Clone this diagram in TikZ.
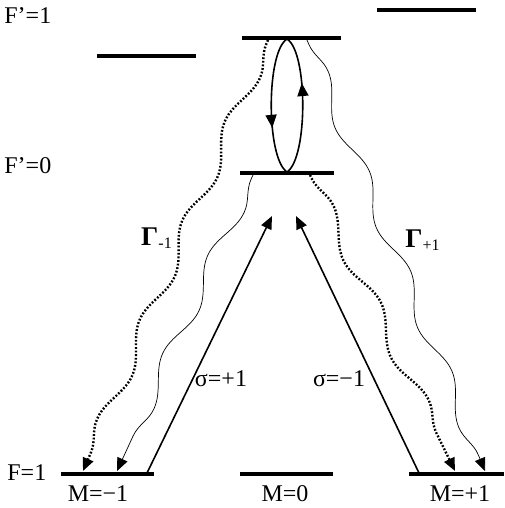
\documentclass[tikz,border=0pt]{standalone}
\usepackage{fontspec}
\setmainfont{Liberation Serif}
\usetikzlibrary{arrows.meta,decorations.pathmorphing,decorations.markings}
\tikzset{
  lev/.style  ={fill=black, inner sep=0pt, minimum height=1.8pt, minimum width=#1},
  lbl/.style  ={font=\fontsize{12}{14}\selectfont, inner sep=0pt},
  ar/.style   ={-{Triangle[length=6.5pt,width=5.5pt]}, line width=0.8pt},
  wave/.style ={decorate, decoration={snake, amplitude=3.8pt, segment length=54pt,
                pre length=2pt, post length=6.5pt}},
  thinw/.style={wave, line width=0.35pt, -{Triangle[length=6.5pt,width=5.5pt]}},
  dotw/.style ={wave, line width=1.2pt, dash pattern=on 0.9pt off 0.9pt,
                -{Triangle[length=6.5pt,width=5.5pt]}},
  cyc/.style  ={line width=0.8pt, postaction={decorate}, decoration={markings,
                mark=at position 0.66 with {\arrow{Triangle[length=6.5pt,width=5.5pt]}}}}
}
\begin{document}
\begin{tikzpicture}[x=0.5pt, y=-0.5pt]
\useasboundingbox (0,0) rectangle (504,508);
% levels
\node[lev=49.5pt] (upp) at (426.5,10) {};
\node[lev=49.5pt] (upz) at (291.5,38) {};
\node[lev=49.5pt] (upm) at (146.5,56) {};
\node[lev=47pt]   (ex)  at (287,173) {};
\node[lev=46.5pt] (gm)  at (107.5,474) {};
\node[lev=46.5pt] (gz)  at (286.5,474) {};
\node[lev=47.5pt] (gp)  at (456.5,474) {};
% labels
\node[lbl, anchor=west] (f1p) at (4,16) {F’=1};
\node[lbl, anchor=west] (f0p) at (4,166) {F’=0};
\node[lbl, anchor=west] (f1)  at (7,473) {F=1};
\node[lbl] (mm) at (98,494) {M=−1};
\node[lbl] (mz) at (285,494) {M=0};
\node[lbl] (mp) at (460,494) {M=+1};
\node[lbl] (sgp) at (221,379) {σ=+1};
\node[lbl] (sgm) at (339,379) {σ=−1};
\node[lbl] (gam) at (157,238) {{\fontsize{13.5}{15}\selectfont\textbf{Γ}}\textsubscript{-1}};
\node[lbl] (gap) at (423,240) {{\fontsize{13.5}{15}\selectfont\textbf{Γ}}\textsubscript{+1}};
% end points
\coordinate (et) at (287,39);
\coordinate (eb) at (287,172);
\coordinate (sL) at (147,473);
\coordinate (sR) at (419,473);
\coordinate (tipL) at (272,216);
\coordinate (tipR) at (296,216);
\coordinate (w1s) at (268,40);  \coordinate (w1e) at (83,471);
\coordinate (w2s) at (253,175); \coordinate (w2e) at (117,471);
\coordinate (w3s) at (310,175); \coordinate (w3e) at (455,471);
\coordinate (w4s) at (307,40);  \coordinate (w4e) at (485,471);
% pumping
\draw[ar] (sL) -- (tipL);
\draw[ar] (sR) -- (tipR);
% Rabi cycle
\draw[cyc] (et) .. controls (266,52) and (266,158) .. (eb);
\draw[cyc] (eb) .. controls (308,158) and (308,52) .. (et);
% spontaneous decay
\draw[dotw]  (w1s) -- (w1e);
\draw[thinw] (w2s) -- (w2e);
\draw[dotw]  (w3s) -- (w3e);
\draw[thinw] (w4s) -- (w4e);
\end{tikzpicture}
\end{document}
